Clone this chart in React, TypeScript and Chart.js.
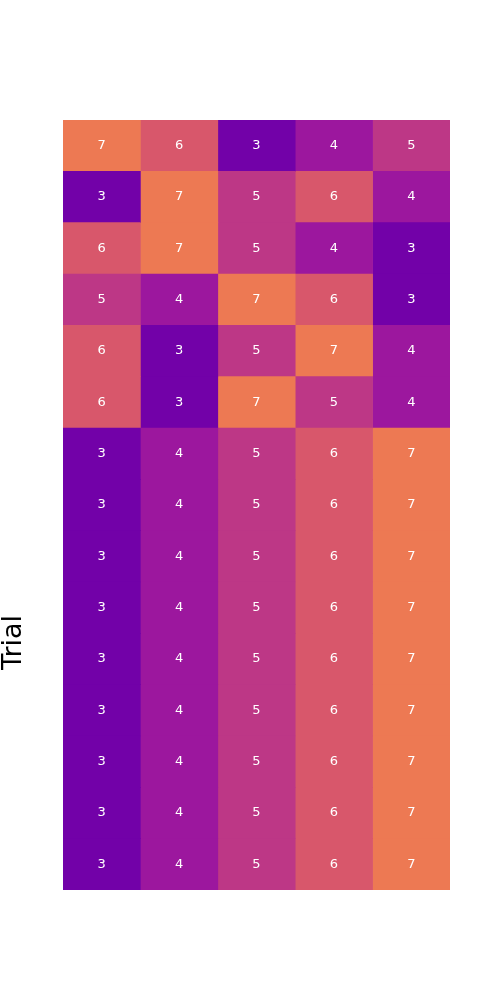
import React, { useEffect, useRef } from "react";
import { Chart, registerables } from "chart.js";

Chart.register(...registerables);

const trials: string[] = ["1", "2", "3", "4", "5", "6", "7", "8", "9", "10", "11", "12", "13", "14", "15"];
const columns: string[] = ["A", "B", "C", "D", "E"];
const values: number[][] = [
  [7, 6, 3, 4, 5],
  [3, 7, 5, 6, 4],
  [6, 7, 5, 4, 3],
  [5, 4, 7, 6, 3],
  [6, 3, 5, 7, 4],
  [6, 3, 7, 5, 4],
  [3, 4, 5, 6, 7],
  [3, 4, 5, 6, 7],
  [3, 4, 5, 6, 7],
  [3, 4, 5, 6, 7],
  [3, 4, 5, 6, 7],
  [3, 4, 5, 6, 7],
  [3, 4, 5, 6, 7],
  [3, 4, 5, 6, 7],
  [3, 4, 5, 6, 7],
];
const palette: Record<number, string> = {
  3: "#7201a8",
  4: "#9c179e",
  5: "#bd3786",
  6: "#d8576b",
  7: "#ed7953",
};
const yTitle = "Trial";

export default function App() {
  const ref = useRef<HTMLCanvasElement | null>(null);
  useEffect(() => {
    if (!ref.current) return;
    const datasets = columns.map((c, ci) => ({
      label: c,
      data: trials.map(() => 1),
      backgroundColor: values.map((r) => palette[r[ci]]),
      borderWidth: 0,
      barPercentage: 1,
      categoryPercentage: 1,
    }));
    const labelPlugin = {
      id: "cellLabels",
      afterDatasetsDraw(chart: any) {
        const ctx = chart.ctx;
        ctx.save();
        ctx.fillStyle = "#ffffff";
        ctx.font = "13px 'DejaVu Sans'";
        ctx.textAlign = "center";
        ctx.textBaseline = "middle";
        chart.data.datasets.forEach((_d: any, ci: number) => {
          const meta = chart.getDatasetMeta(ci);
          meta.data.forEach((bar: any, ri: number) => {
            const p = bar.getCenterPoint();
            ctx.fillText(String(values[ri][ci]), p.x, p.y);
          });
        });
        ctx.restore();
      },
      afterDraw(chart: any) {
        const ctx = chart.ctx;
        ctx.save();
        ctx.fillStyle = "#000000";
        ctx.font = "27px 'DejaVu Sans'";
        ctx.textAlign = "center";
        ctx.textBaseline = "alphabetic";
        ctx.translate(21, 642.5);
        ctx.rotate(-Math.PI / 2);
        ctx.fillText(yTitle, 0, 0);
        ctx.restore();
      },
    };
    const chart = new Chart(ref.current, {
      type: "bar",
      data: { labels: trials, datasets },
      options: {
        indexAxis: "y",
        animation: false,
        responsive: false,
        maintainAspectRatio: false,
        layout: { padding: { left: 63, right: 50, top: 120, bottom: 110 } },
        plugins: { legend: { display: false }, tooltip: { enabled: false } },
        scales: {
          x: { stacked: true, display: false, min: 0, max: columns.length },
          y: { stacked: true, display: false },
        },
      },
      plugins: [labelPlugin],
    } as any);
    return () => chart.destroy();
  }, []);
  return (
    <div style={{ position: "absolute", left: 0, top: 0, width: 500, height: 1000, background: "#fff" }}>
      <canvas ref={ref} width={500} height={1000} style={{ width: 500, height: 1000 }} />
    </div>
  );
}
